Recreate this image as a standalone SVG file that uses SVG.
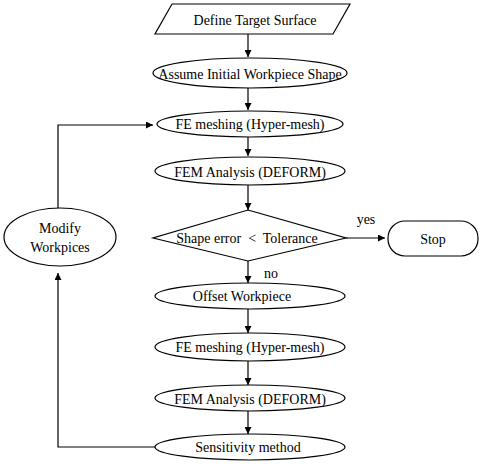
<svg xmlns="http://www.w3.org/2000/svg" width="481" height="471" viewBox="0 0 481 471">
<defs>
<marker id="ah" viewBox="0 0 10 10" refX="10" refY="5" markerWidth="7" markerHeight="7" markerUnits="userSpaceOnUse" orient="auto"><path d="M0,0 L10,5 L0,10 z" fill="#000"/></marker>
</defs>
<style>
.s{fill:#fff;stroke:#000;stroke-width:1.2}
text{font-family:Liberation Serif,DejaVu Serif,serif;font-size:14px;fill:#000;text-anchor:middle;dominant-baseline:central}
.c{fill:none;stroke:#000;stroke-width:1.2;marker-end:url(#ah)}
</style>
<rect width="481" height="471" fill="#fff"/>
<g id="connectors">
<path class="c" d="M248,34 V57"/>
<path class="c" d="M248,88 V110"/>
<path class="c" d="M248,137 V156"/>
<path class="c" d="M248,185 V210"/>
<path class="c" d="M346,238 H385"/>
<path class="c" d="M248,261 V283"/>
<path class="c" d="M248,308 V333"/>
<path class="c" d="M248,360 V385"/>
<path class="c" d="M248,411 V434"/>
<path class="c" d="M155,447 H58 V273"/>
<path class="c" d="M58,208 V125 H153"/>
<text x="366" y="219">yes</text>
<text x="271" y="273">no</text>
</g>
<g id="define"><polygon class="s" points="172,4 350,4 333,34 155,34"/><text x="255" y="20">Define Target Surface</text></g>
<g id="assume"><ellipse class="s" cx="250" cy="73" rx="97" ry="15"/><text x="250" y="74">Assume Initial Workpiece Shape</text></g>
<g id="mesh1"><ellipse class="s" cx="250" cy="124" rx="93" ry="13"/><text x="250" y="124">FE meshing (Hyper-mesh)</text></g>
<g id="fem1"><ellipse class="s" cx="250" cy="171" rx="95" ry="14"/><text x="250" y="172">FEM Analysis (DEFORM)</text></g>
<g id="decision"><polygon class="s" points="248,210 346,238 248,261 153,238"/><text x="247" y="238" xml:space="preserve">Shape error  &lt;  Tolerance</text></g>
<g id="stop"><rect class="s" x="388" y="221" width="90" height="35" rx="17"/><text x="433" y="239">Stop</text></g>
<g id="offset"><ellipse class="s" cx="250" cy="296" rx="95" ry="13"/><text x="242" y="296">Offset Workpiece</text></g>
<g id="mesh2"><ellipse class="s" cx="250" cy="347" rx="95" ry="14"/><text x="250" y="347">FE meshing (Hyper-mesh)</text></g>
<g id="fem2"><ellipse class="s" cx="250" cy="398" rx="95" ry="13"/><text x="250" y="399">FEM Analysis (DEFORM)</text></g>
<g id="sens"><ellipse class="s" cx="250" cy="447" rx="95" ry="13"/><text x="248" y="447">Sensitivity method</text></g>
<g id="modify"><ellipse class="s" cx="60" cy="237" rx="56" ry="29"/><text x="60" y="228">Modify</text><text x="60" y="247">Workpices</text></g>
</svg>
